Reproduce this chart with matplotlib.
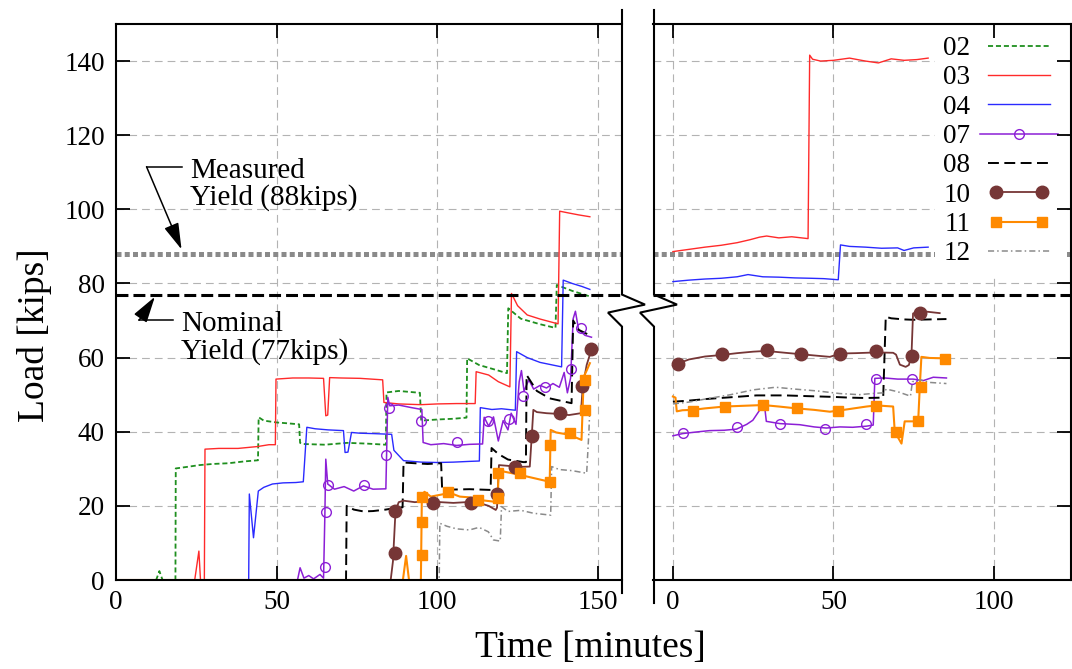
import matplotlib
matplotlib.use("Agg")
import matplotlib.pyplot as plt
from matplotlib.lines import Line2D
from matplotlib.legend_handler import HandlerLine2D

plt.rcParams["font.family"] = ["Liberation Serif", "DejaVu Serif"]

# ---- first loading (left panel) ----
a02_t = [0, 12.5, 13.5, 14.5, 18.5, 18.6, 22, 26, 30, 35, 40, 44.2, 44.4, 46, 50, 53, 57, 57.3, 58, 65, 72, 78,
         84, 84.2, 88, 94.6, 95, 100, 105, 109.1, 109.3, 113, 117, 121.7, 122.1, 126, 132, 136.8, 137.2, 142, 147.5]
a02_kips = [0, 0, 2.4, 0, 0, 30.1, 30.5, 31, 31.3, 31.5, 32, 32.3, 43.9, 43, 42.5, 42.3, 42, 37, 36.7, 36.5, 37,
            36.8, 36.5, 50.6, 51, 50.5, 43, 43.3, 43.5, 43.8, 59.8, 58, 57, 55.8, 73.3, 70.5, 69, 68, 79.6, 78,
            76.5]

a03_t = [0, 24.5, 25.8, 26.3, 27.5, 27.7, 32, 38, 44, 47.6, 49.6, 49.8, 55, 60, 64.6, 65.3, 65.9, 66.5, 70, 76,
         83, 83.4, 88, 95, 100, 106, 111.8, 112.1, 116, 119, 122.6, 123.1, 125, 128, 132, 137.6, 138.1, 141,
         144, 147.5]
a03_kips = [0, 0, 7.8, 0, 0, 35.3, 35.5, 35.5, 36, 36.5, 36.5, 54.2, 54.5, 54.5, 54.4, 44.3, 44.5, 54.6, 54.5,
            54.4, 54, 47.9, 47.5, 47.3, 47.5, 47.6, 47.6, 56.2, 55.3, 53.5, 52.1, 77.3, 74, 71.5, 70.4, 69.1,
            99.5, 99, 98.5, 98]

a04_t = [0, 41.3, 41.5, 42.8, 44.3, 46, 48.7, 52, 56, 58.3, 59.4, 62, 66, 70.8, 71.3, 72.2, 73.3, 76, 80, 85.8,
         86.5, 89.5, 95, 100, 105, 110, 113.1, 113.4, 117, 120, 124.3, 124.7, 128, 132, 138.7, 139.2, 142, 145,
         147.5]
a04_kips = [0, 0, 23.2, 11.4, 24, 25, 25.9, 26.2, 26.3, 26.5, 41.2, 40.8, 40.5, 40.3, 34.4, 34.5, 39.8, 39.6,
            39.5, 39.3, 35, 32.2, 31.8, 31.7, 31.8, 32, 32.1, 46.5, 46, 46.2, 45.8, 61.6, 60, 58.7, 57.5, 80.9,
            80, 79.2, 78.4]

a07_t = [0, 56.5, 57.3, 58.5, 60, 61.5, 63.5, 64.6, 65, 65.3, 65.9, 68, 71, 74, 77, 80, 84, 84.6, 85.2, 88, 92,
         95.2, 95.6, 98, 102, 106, 110, 114.1, 114.6, 116, 117.5, 119, 120.5, 122, 123, 124.5, 125.5, 126.2, 127,
         128.5, 130, 132, 134, 136, 138, 139.5, 140.5, 141.5, 142.3, 143, 144, 146, 148]
a07_kips = [0, 0, 3.3, 0.5, 1.2, 0.3, 1.5, 0.5, 17, 32.6, 25.9, 24.5, 25.2, 24, 25.4, 24.5, 24.6, 49.3, 47,
            47.2, 46.5, 46, 37.1, 36.5, 36.8, 36.3, 36.6, 36.7, 43.9, 41.5, 44, 37.5, 43, 40.5, 45, 42, 53.5,
            56.5, 51, 54, 51.5, 52.5, 51.8, 53, 52, 56, 50.5, 54.5, 70.5, 72.5, 67.5, 66, 65.5]
a07_mark_t = [65.0, 65.3, 65.9, 77.2, 84.1, 85.0, 94.9, 106.2, 115.8, 122.4, 126.7, 133.5, 141.7, 144.8]
a07_mark_kips = [3.6, 18.4, 25.7, 25.7, 33.7, 46.3, 43.0, 37.1, 43.0, 43.4, 49.7, 52.1, 56.8, 68.0]

a08_t = [0, 71.6, 71.8, 74, 77, 80, 84, 87.4, 89.2, 89.5, 93, 97, 101.2, 101.5, 105, 110, 116.6, 116.9, 119,
         122, 126.8, 127.6, 127.8, 131, 135, 141.8, 142.3, 144, 147.5]
a08_kips = [0, 0, 20, 19, 18.5, 18.6, 19, 19.5, 19.6, 31.7, 31.5, 31.3, 31.5, 24.8, 24.4, 24.5, 24.3, 35.6, 34,
            32.5, 31.8, 31.8, 55.3, 51, 49, 47.7, 70, 67.5, 66]

a10_t = [0, 85.5, 86.2, 87, 88, 89.5, 93, 97, 101, 105, 109, 113, 116, 118.2, 118.6, 119.2, 122, 125, 128.8,
         129.4, 129.9, 131, 134, 138, 141, 144.7, 145.3, 146.5, 148]
a10_kips = [0, 0, 5, 18.6, 21, 21.4, 21, 21.3, 21, 20.8, 21, 20.8, 20, 18.9, 19.5, 31, 30.8, 30.5, 30.6, 38.7,
            45.9, 45.3, 45, 44.8, 44.5, 45, 52.3, 58, 62.2]
a10_mark_t = [86.8, 86.8, 98.6, 110.5, 118.6, 124.2, 129.6, 138.2, 144.9, 148.0]
a10_mark_kips = [7.4, 18.6, 20.9, 20.9, 23.3, 30.6, 38.8, 45.0, 52.3, 62.2]

a11_t = [0, 89.3, 90.3, 91.2, 94.9, 95.2, 96, 98, 101, 104, 107, 110, 114, 117, 118.8, 119.1, 121, 125, 130,
         135, 135.3, 137, 141, 144.9, 145.6, 146.5, 147.5]
a11_kips = [0, 0, 6.5, 0, 0, 22.5, 23.8, 22.5, 23, 23.5, 22.5, 22.3, 21.5, 21.2, 21, 29.7, 29.2, 28.5, 27.5,
            26.5, 40.5, 39.8, 39.2, 37.8, 54.9, 56.5, 58.5]
a11_mark_t = [95.1, 95.1, 95.1, 103.4, 112.8, 119.0, 119.0, 125.7, 135.1, 135.1, 141.2, 146.0, 146.0]
a11_mark_kips = [6.7, 15.7, 22.5, 23.8, 21.6, 22.0, 28.8, 28.8, 26.5, 36.4, 39.6, 45.9, 54.0]

a12_t = [0, 100.6, 100.8, 103, 106, 110, 113, 115.9, 117.5, 119.6, 120, 122, 126, 130, 135.3, 135.6, 138, 142,
         146.5, 147.2, 147.5]
a12_kips = [0, 0, 15.3, 14.5, 13.8, 13.5, 14.2, 13, 10.8, 10.5, 19.8, 18.5, 18.8, 18, 17.5, 30.6, 29.8, 29.5,
            28.8, 40, 46.8]

# ---- second loading (right panel) ----
b03_t = [0, 5, 10, 15, 20, 24, 27, 29.2, 33, 37, 42.1, 42.6, 43.5, 46, 50, 55, 60, 64, 68, 72, 76, 79.5]
b03_kips = [88.6, 89.2, 89.8, 90.3, 91, 91.8, 92.5, 92.8, 92.3, 92.6, 92.1, 141.6, 140.5, 140, 140.2, 140.8,
            140, 139.5, 140.6, 140.2, 140.4, 140.8]

b04_t = [0, 5, 10, 15, 20, 23.4, 28, 33, 38, 43, 47, 51.5, 52.2, 55, 60, 65, 70, 72, 75, 79.5]
b04_kips = [80.5, 80.9, 81.2, 81.4, 81.8, 82.4, 81.8, 81.7, 81.5, 81.4, 81.3, 81, 90.4, 90, 89.8, 89.5, 89.6,
            88.9, 89.6, 89.8]

b07_t = [0, 3, 7, 11.4, 16, 19.8, 23, 24.9, 27, 28.6, 29.1, 33.3, 39.5, 44, 47.8, 52, 56, 60.3, 62.4, 62.9, 66,
         70, 74.8, 78, 81.1, 85.2]
b07_kips = [38.9, 39.5, 39.9, 40.3, 40.4, 40.7, 42, 43.1, 45.8, 46.6, 42.8, 42.2, 41.9, 41.3, 41, 41.3, 41.2,
            41.5, 41.8, 54.4, 54.5, 54.2, 54.2, 53.8, 54.7, 54.5]
b07_mark_t = [3.1, 20.0, 33.3, 47.3, 60.3, 63.2, 74.6]
b07_mark_kips = [39.7, 41.3, 42.0, 40.8, 42.0, 54.2, 54.2]

b08_t = [0, 5, 11.4, 18, 26, 35, 42, 49.9, 55, 60, 65.5, 66.3, 68, 72, 75, 80, 85.2]
b08_kips = [48.1, 48.4, 48.9, 49.3, 49.8, 49.8, 49.6, 49.4, 49.2, 49.1, 49.2, 71, 70.6, 70.3, 70.2, 70.3, 70.4]

b10_t = [0, 1.6, 5, 10, 15.1, 20, 25, 29, 35, 40, 45, 48.9, 52, 57, 63.4, 68.6, 69.5, 70.7, 72.5, 73.5, 74.3,
         74.8, 77, 80, 83.1]
b10_kips = [57.8, 58.4, 59.5, 60.3, 60.7, 61.2, 61.6, 61.8, 61.3, 60.9, 60.5, 60.2, 61.1, 61.2, 61.4, 61.3,
            60.8, 58.1, 57.5, 58, 60.4, 71.9, 72.6, 72.3, 72]
b10_mark_t = [1.6, 15.4, 29.3, 40.0, 52.1, 63.4, 74.6, 76.9]
b10_mark_kips = [58.4, 61.1, 62.0, 61.0, 61.0, 61.8, 60.5, 71.9]

b11_t = [0, 0.8, 1.2, 3, 6.2, 10, 16.1, 22, 28.1, 33, 38.5, 44, 48.9, 54, 60.3, 63.4, 68.6, 69.1, 71.2, 72.2,
         76.4, 76.9, 77.4, 80, 85.2]
b11_kips = [49.5, 49.2, 45.5, 45.8, 45.9, 46.3, 46.8, 47, 47.2, 46.8, 46.3, 45.9, 45.4, 46, 46.8, 47.1, 46.8,
            40, 36.8, 42.8, 42.8, 52.2, 60.2, 59.9, 59.8]
b11_mark_t = [6.4, 16.1, 28.1, 38.5, 51.5, 63.4, 69.4, 76.4, 77.4, 84.7]
b11_mark_kips = [45.7, 46.6, 47.2, 46.3, 45.7, 47.0, 40.0, 42.8, 52.2, 59.5]

b12_t = [0, 5, 10, 18, 25, 32, 38, 45, 52, 58, 62, 65.5, 66.5, 70, 74, 74.6, 77, 80, 85.2]
b12_kips = [47.5, 48, 48.8, 50, 51.3, 52, 51.5, 51, 50.3, 50, 50.3, 50.5, 51.5, 50.8, 49.6, 53.5, 54, 53.3, 53]

measured_yield = 88
nominal_yield = 77
y_ticks = [0, 20, 40, 60, 80, 100, 120, 140]
left_xticks = [0, 50, 100, 150]
right_xticks = [0, 50, 100]

GREEN = "#1f8f1f"
RED = "#ff2a2a"
BLUE = "#2a2aff"
PURPLE = "#8c1fd6"
BROWN = "#763636"
ORANGE = "#ff8a00"
GREY = "#8a8a8a"

styles = {
    "02": dict(color=GREEN, lw=1.3, dashes=(2.8, 1.6)),
    "03": dict(color=RED, lw=1.0),
    "04": dict(color=BLUE, lw=1.0),
    "07": dict(color=PURPLE, lw=1.1),
    "08": dict(color="black", lw=1.4, dashes=(5.6, 2.8)),
    "10": dict(color=BROWN, lw=1.3),
    "11": dict(color=ORANGE, lw=1.5),
    "12": dict(color=GREY, lw=1.1, dashes=(4, 2, 1, 2)),
}
marks = {
    "07": dict(marker="o", ms=7, mfc="none", mec=PURPLE, mew=1.0),
    "10": dict(marker="o", ms=9, mfc=BROWN, mec=BROWN),
    "11": dict(marker="s", ms=7, mfc=ORANGE, mec=ORANGE),
}

W, H = 1072, 669
fig = plt.figure(figsize=(W / 100, H / 100), dpi=100)


def box(x0, y0, x1, y1):
    return [x0 / W, 1 - y1 / H, (x1 - x0) / W, (y1 - y0) / H]


ax1 = fig.add_axes(box(116, 24, 622, 580))
ax2 = fig.add_axes(box(653, 24, 1071, 580))
ax1.set_xlim(0, 157.5)
ax2.set_xlim(-6.2, 124.0)


def draw(ax, key, t, kips, mt=None, mk=None):
    ax.plot(t, kips, zorder=2, **styles[key])
    if mt is not None:
        ax.plot(mt, mk, ls="none", zorder=2.05, **marks[key])


draw(ax1, "02", a02_t, a02_kips)
draw(ax1, "03", a03_t, a03_kips)
draw(ax1, "04", a04_t, a04_kips)
draw(ax1, "07", a07_t, a07_kips, a07_mark_t, a07_mark_kips)
draw(ax1, "08", a08_t, a08_kips)
draw(ax1, "10", a10_t, a10_kips, a10_mark_t, a10_mark_kips)
draw(ax1, "11", a11_t, a11_kips, a11_mark_t, a11_mark_kips)
draw(ax1, "12", a12_t, a12_kips)

draw(ax2, "03", b03_t, b03_kips)
draw(ax2, "04", b04_t, b04_kips)
draw(ax2, "07", b07_t, b07_kips, b07_mark_t, b07_mark_kips)
draw(ax2, "08", b08_t, b08_kips)
draw(ax2, "10", b10_t, b10_kips, b10_mark_t, b10_mark_kips)
draw(ax2, "11", b11_t, b11_kips, b11_mark_t, b11_mark_kips)
draw(ax2, "12", b12_t, b12_kips)

for ax, xt, xgrid in ((ax1, left_xticks, left_xticks[1:]), (ax2, right_xticks, right_xticks)):
    ax.set_ylim(0, 150)
    ax.set_axisbelow(False)
    ax.set_xticks(xt)
    ax.set_yticks(y_ticks)
    # grid drawn by hand so the legend can sit over it but under the ticks
    for v in xgrid:
        ax.axvline(v, color="#b3b3b3", lw=0.8, ls=(0, (7, 4.5)), zorder=1)
    for v in y_ticks[1:]:
        ax.axhline(v, color="#b3b3b3", lw=0.8, ls=(0, (7, 4.5)), zorder=1)
    ax.axhline(measured_yield, color=GREY, lw=3.6, dashes=(1.0, 0.65), dash_capstyle="butt", zorder=1.8)
    ax.axhline(nominal_yield, color="black", lw=2.2, dashes=(3.9, 1.65), dash_capstyle="butt", zorder=2.3)
    for s in ax.spines.values():
        s.set_linewidth(1.5)
    ax.tick_params(direction="in", length=10, width=1.3, labelsize=19.5, top=True)
    ax.tick_params(axis="x", pad=7)

ax1.spines["right"].set_visible(False)
ax2.spines["left"].set_visible(False)
ax1.tick_params(axis="y", left=True, right=False, pad=8)
ax2.tick_params(axis="y", left=False, right=True, labelleft=False)

# yield annotations
arrow = dict(arrowstyle="-|>,head_length=0.9,head_width=0.26", color="black", lw=1.1,
             shrinkA=0, shrinkB=0, mutation_scale=18)
ax1.text(23, 106.7, "Measured\nYield (88kips)", fontsize=21, ha="left", va="center", linespacing=1.05)
ax1.plot([20.4, 9.5], [111.5, 111.5], color="black", lw=1.1)
ax1.annotate("", xy=(20.4, 89.2), xytext=(9.5, 111.5), arrowprops=arrow)
ax1.text(20.2, 65.3, "Nominal\nYield (77kips)", fontsize=21, ha="left", va="center", linespacing=1.05)
ax1.plot([17.7, 7.2], [70.1, 70.1], color="black", lw=1.1)
ax1.annotate("", xy=(12.1, 76.4), xytext=(7.2, 70.1), arrowprops=arrow)

# legend
order = ["02", "03", "04", "07", "08", "10", "11", "12"]
handles = []
for key in order:
    kw = dict(styles[key])
    kw.update(marks.get(key, {}))
    handles.append(Line2D([], [], **kw))
hmap = {handles[3]: HandlerLine2D(numpoints=1),
        handles[5]: HandlerLine2D(numpoints=2, marker_pad=0.6),
        handles[6]: HandlerLine2D(numpoints=2, marker_pad=0.6)}
leg = ax2.legend(handles, order, loc="upper left", bbox_to_anchor=(0.675, 0.993), frameon=True, fancybox=False,
                 edgecolor="none", facecolor="white", framealpha=1, fontsize=19.5, markerfirst=False,
                 handlelength=2.9, handletextpad=0.35, labelspacing=0.16, borderpad=0.3, borderaxespad=0,
                 numpoints=2, handler_map=hmap)
leg.set_zorder(2.2)

# broken-axis spines with zig-zags at the nominal line
fig.canvas.draw()
y_nom = H - ax1.transData.transform((0, nominal_yield))[1]


def broken_spine(x, y_top, y_bot):
    px = [x, x, x + 23, x - 14, x, x]
    py = [y_top, y_nom, y_nom + 10, y_nom + 18, y_nom + 32, y_bot]
    fig.add_artist(Line2D([p / W for p in px], [1 - p / H for p in py], transform=fig.transFigure,
                          color="black", lw=1.5, solid_joinstyle="miter"))


broken_spine(622, 10, 593)
broken_spine(654, 10, 603)

fig.text(35 / W, 1 - 335 / H, "Load [kips]", rotation=90, fontsize=27, ha="center", va="center")
fig.text(590 / W, 1 - 648 / H, "Time [minutes]", fontsize=27, ha="center", va="center")

fig.savefig("out.png", dpi=100)
